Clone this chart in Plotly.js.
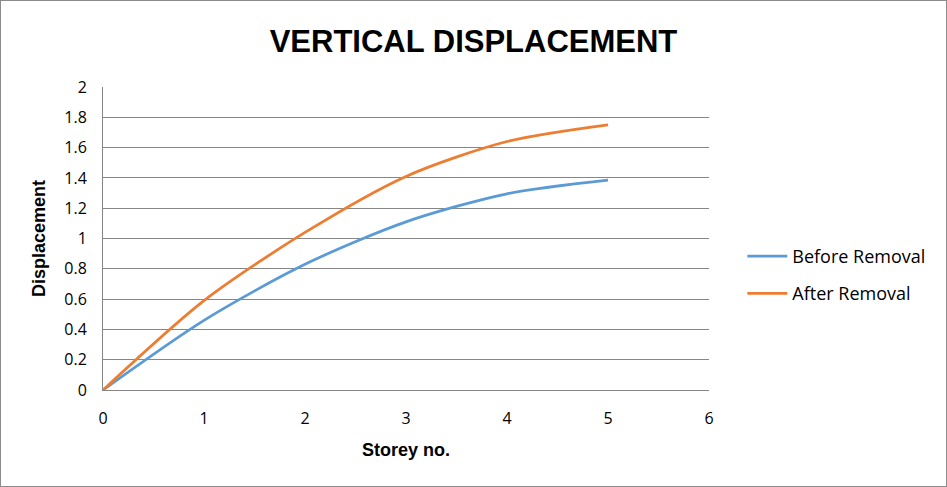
<!DOCTYPE html>
<html>
<head>
<meta charset="utf-8">
<script src="https://cdn.plot.ly/plotly-3.0.1.min.js"></script>
<style>
html,body{margin:0;padding:0;background:#fff;}
#wrap{width:947px;height:487px;box-sizing:border-box;border:1px solid #8c8c8c;overflow:hidden;}
#chart{width:945px;height:485px;}
</style>
</head>
<body>
<div id="wrap"><div id="chart"></div></div>
<script>
const storeys = [0, 1, 2, 3, 4, 5];
const beforeRemoval = [0, 0.46, 0.83, 1.11, 1.295, 1.385];
const afterRemoval = [0, 0.59, 1.04, 1.41, 1.64, 1.75];
const seriesNames = ['Before Removal', 'After Removal'];
const yTicks = [0, 0.2, 0.4, 0.6, 0.8, 1, 1.2, 1.4, 1.6, 1.8, 2];
const yTickText = ['0', '0.2', '0.4', '0.6', '0.8', '1', '1.2', '1.4', '1.6', '1.8', '2'];
const xTicks = [0, 1, 2, 3, 4, 5, 6];

const traces = [
  {x: storeys, y: beforeRemoval, name: seriesNames[0], type: 'scatter', mode: 'lines',
   line: {color: '#5B9BD5', width: 2.75, shape: 'spline', smoothing: 0.8}, legendgroup: 'a'},
  {x: storeys, y: afterRemoval, name: seriesNames[1], type: 'scatter', mode: 'lines',
   line: {color: '#ED7D31', width: 2.75, shape: 'spline', smoothing: 0.8}, legendgroup: 'b'}
];

const layout = {
  width: 945, height: 485,
  margin: {l: 102, r: 237, t: 86, b: 96},
  paper_bgcolor: '#fff', plot_bgcolor: '#fff',
  title: {text: 'VERTICAL DISPLACEMENT', x: 0.5, xref: 'container', xanchor: 'center',
          y: 0.918, yref: 'container', yanchor: 'middle',
          font: {family: 'Liberation Sans, Arial, sans-serif', size: 31, color: '#000', weight: 'bold'}},
  xaxis: {range: [0, 6], tickvals: xTicks, showgrid: false, zeroline: false,
          showline: true, linecolor: '#868686', linewidth: 1, ticks: '',
          ticklabelstandoff: 14,
          tickfont: {family: 'Open Sans, sans-serif', size: 16, color: '#000'},
          title: {text: 'Storey no.', standoff: 15,
                  font: {family: 'Liberation Sans, Arial, sans-serif', size: 18, color: '#000', weight: 'bold'}}},
  yaxis: {range: [0, 2], tickvals: yTicks, ticktext: yTickText, showgrid: true, gridcolor: '#868686', gridwidth: 1,
          zeroline: false, showline: true, linecolor: '#868686', linewidth: 1, ticks: '',
          ticklabelstandoff: 12,
          tickfont: {family: 'Open Sans, sans-serif', size: 16, color: '#000'},
          title: {text: 'Displacement', standoff: 13,
                  font: {family: 'Liberation Sans, Arial, sans-serif', size: 18, color: '#000', weight: 'bold'}}},
  showlegend: true,
  legend: {x: 1.055, xanchor: 'left', y: 0.38, yanchor: 'middle', traceorder: 'grouped', tracegroupgap: 11,
           font: {family: 'Open Sans, sans-serif', size: 18, color: '#000'}, bgcolor: 'rgba(0,0,0,0)', itemwidth: 40}
};

Plotly.newPlot('chart', traces, layout, {displayModeBar: false, responsive: false});
</script>
</body>
</html>
